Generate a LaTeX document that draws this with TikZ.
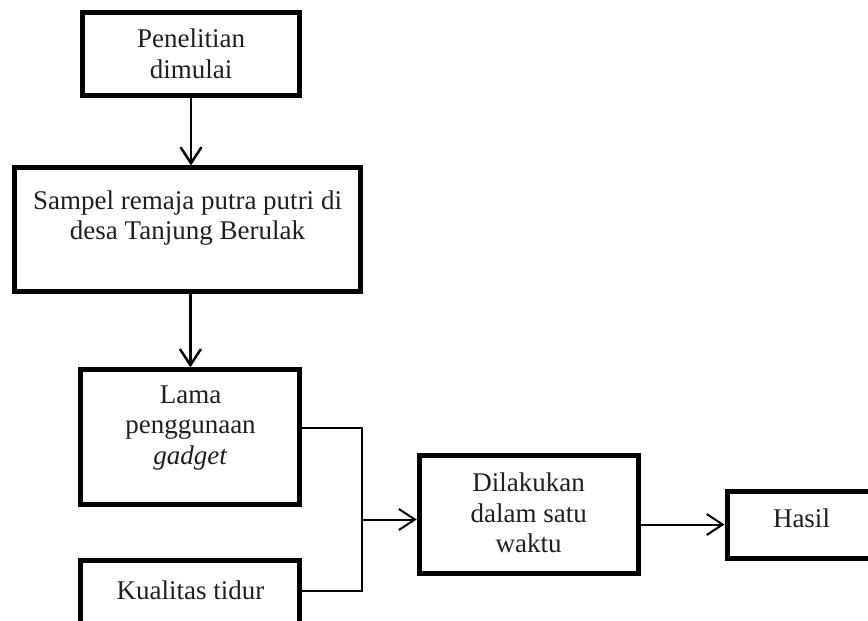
\documentclass[tikz,border=0pt]{standalone}
\usepackage{fontspec}
\setmainfont{Liberation Serif}
\usepackage{tikz}
\usetikzlibrary{arrows.meta}
\tikzstyle{blok}=[draw, rectangle, line width=5pt, inner sep=0pt]
\tikzstyle{tulisan}=[align=center, inner sep=0pt, text=black!88, font=\fontsize{27}{30.5}\selectfont]
\tikzstyle{panah}=[-{Straight Barb[length=16pt,width=21pt]}, line width=2.5pt]
\tikzstyle{garis}=[line width=1.8pt]

\begin{document}
\begin{tikzpicture}[x=1pt, y=-1pt]
\useasboundingbox (0,0) rectangle (868,621);
\clip (0,0) rectangle (868,621);

% kotak
\node[blok, minimum width=216.5pt, minimum height=83pt] (mulai) at (191,54) {};
\node[blok, minimum width=346.5pt, minimum height=123.5pt] (sampel) at (187.5,229.7) {};
\node[blok, minimum width=219pt, minimum height=134.4pt] (lama) at (190.4,437) {};
\node[blok, minimum width=219pt, minimum height=134.4pt] (tidur) at (190.4,627.2) {};
\node[blok, minimum width=219pt, minimum height=117.5pt] (waktu) at (528.7,514.6) {};
\node[blok, minimum width=219pt, minimum height=67pt] (hasil) at (836.5,524.5) {};

% tulisan
\node[tulisan] (tmulai) at (191,54) {Penelitian\\dimulai};
\node[tulisan] (tsampel) at (187.5,218) {Sampel remaja putra putri di\\desa Tanjung Berulak};
\node[tulisan] (tlama) at (190.5,428) {Lama\\penggunaan\\\textit{gadget}};
\node[tulisan] (ttidur) at (190.5,590) {Kualitas tidur};
\node[tulisan] (twaktu) at (528.7,513) {Dilakukan\\dalam satu\\waktu};
\node[tulisan] (thasil) at (801.5,518) {Hasil};

\coordinate (atas) at (362,428);
\coordinate (bawah) at (362,591);
\coordinate (gabung) at (362,519.5);

\draw[panah] (mulai.south) -- (mulai.south |- sampel.north);
\draw[panah] (sampel.south -| lama.north) -- (lama.north);
\draw[garis] (lama.east |- atas) -- (atas) -- (bawah) -- (tidur.east |- bawah);
\draw[panah, line width=2pt] (gabung) -- (gabung -| waktu.west);
\draw[panah, line width=2pt] (waktu.east |- hasil.west) -- (hasil.west);

\end{tikzpicture}
\end{document}
